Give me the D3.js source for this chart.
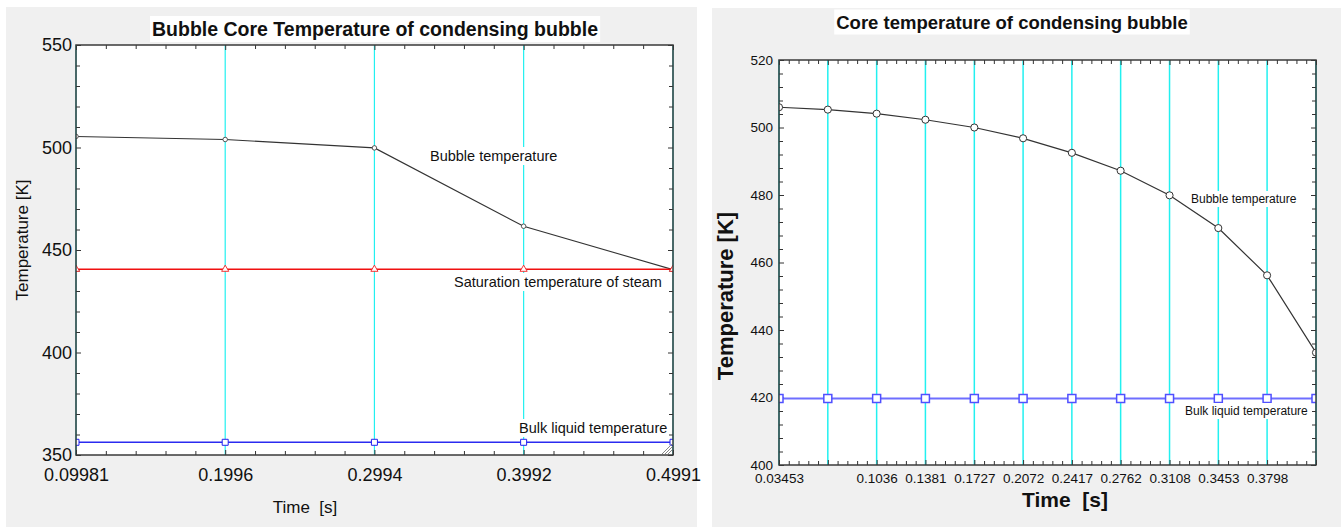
<!DOCTYPE html>
<html>
<head>
<meta charset="utf-8">
<script src="https://cdn.jsdelivr.net/npm/d3@7"></script>
<style>
  html, body { margin: 0; padding: 0; background: #ffffff; }
  svg { display: block; font-family: Arial, "Liberation Sans", sans-serif; }
</style>
</head>
<body>
<svg id="chart" width="1341" height="527"></svg>
<script>
// ---- Left chart: coarse time steps ----
const leftTime = [0.09981, 0.1996, 0.2994, 0.3992, 0.4991];
const leftBubble = [505.4, 503.9, 499.8, 461.6, 440.4];
const leftSaturation = [440.6, 440.6, 440.6, 440.6, 440.6];
const leftBulk = [356.2, 356.2, 356.2, 356.2, 356.2];
const leftTempTicks = [350, 400, 450, 500, 550];
const leftTimeLabels = ["0.09981", "0.1996", "0.2994", "0.3992", "0.4991"];

// ---- Right chart: fine time steps ----
const rightTime = [0.03453, 0.06906, 0.1036, 0.1381, 0.1727, 0.2072,
                   0.2417, 0.2762, 0.3108, 0.3453, 0.3798, 0.4144];
const rightBubble = [506.0, 505.3, 504.1, 502.3, 500.0, 496.8,
                     492.5, 487.2, 479.9, 470.2, 456.2, 433.3];
const rightBulk = [419.7, 419.7, 419.7, 419.7, 419.7, 419.7,
                   419.7, 419.7, 419.7, 419.7, 419.7, 419.7];
const rightTempTicks = [400, 420, 440, 460, 480, 500, 520];
const rightTimeLabels = ["0.03453", "", "0.1036", "0.1381", "0.1727", "0.2072",
                         "0.2417", "0.2762", "0.3108", "0.3453", "0.3798", ""];

const svg = d3.select("#chart");

// Evenly spaced minor positions between consecutive values
function minorBetween(vals, parts) {
  const out = [];
  for (let i = 0; i < vals.length - 1; i++) {
    for (let k = 1; k < parts; k++) out.push(vals[i] + (vals[i + 1] - vals[i]) * k / parts);
  }
  return out;
}

function labelWithBox(g, x, y, text, style) {
  const t = g.append("text")
    .attr("x", x).attr("y", y)
    .attr("dominant-baseline", "central")
    .attr("text-anchor", style.anchor || "start")
    .attr("font-size", style.size)
    .attr("font-weight", style.weight || "normal")
    .attr("fill", "#111")
    .text(text);
  const bb = t.node().getBBox();
  const p = style.pad || 1;
  g.insert("rect", () => t.node())
    .attr("x", bb.x - p).attr("y", bb.y - p + (style.padTop || 0))
    .attr("width", bb.width + 2 * p).attr("height", bb.height + 2 * p - (style.padTop || 0))
    .attr("fill", "#ffffff");
  return t;
}

function drawPanel(cfg) {
  const g = svg.append("g");
  g.append("rect")
    .attr("x", cfg.bg[0]).attr("y", cfg.bg[1])
    .attr("width", cfg.bg[2] - cfg.bg[0]).attr("height", cfg.bg[3] - cfg.bg[1])
    .attr("fill", "#f0f0f0");

  const time = cfg.time;
  const x = d3.scaleLinear().domain([time[0], time[time.length - 1]]).range([cfg.left, cfg.right]);
  const y = d3.scaleLinear().domain(d3.extent(cfg.yTicks)).range([cfg.bottom, cfg.top]);

  g.append("rect")
    .attr("x", cfg.left).attr("y", cfg.top)
    .attr("width", cfg.right - cfg.left).attr("height", cfg.bottom - cfg.top)
    .attr("fill", "#ffffff");

  const clipId = "clip-" + cfg.id;
  g.append("clipPath").attr("id", clipId)
    .append("rect")
    .attr("x", cfg.left).attr("y", cfg.top)
    .attr("width", cfg.right - cfg.left).attr("height", cfg.bottom - cfg.top);

  // Vertical grid at every labelled time
  g.append("g").selectAll("line").data(cfg.gridTimes).join("line")
    .attr("x1", d => x(d)).attr("x2", d => x(d))
    .attr("y1", cfg.top).attr("y2", cfg.bottom)
    .attr("stroke", "#22f0f0").attr("stroke-width", cfg.gridWidth);

  // Ticks (inside the frame) on all four sides
  const minorX = minorBetween(time, 5);
  const minorY = minorBetween(cfg.yTicks, cfg.yMinorParts);
  const axes = [
    [d3.axisBottom(x).tickValues(minorX).tickSize(-cfg.minorLen), `translate(0,${cfg.bottom})`],
    [d3.axisTop(x).tickValues(minorX).tickSize(-cfg.minorLen), `translate(0,${cfg.top})`],
    [d3.axisTop(x).tickValues(time).tickSize(-cfg.majorLen), `translate(0,${cfg.top})`],
    [d3.axisLeft(y).tickValues(minorY).tickSize(-cfg.minorLen), `translate(${cfg.left},0)`],
    [d3.axisRight(y).tickValues(minorY).tickSize(-cfg.minorLen), `translate(${cfg.right},0)`],
    [d3.axisRight(y).tickValues(cfg.yTicks).tickSize(-cfg.majorLen), `translate(${cfg.right},0)`]
  ];
  axes.forEach(([ax, tr]) => {
    const a = g.append("g").attr("transform", tr).call(ax.tickFormat(""));
    a.select(".domain").remove();
    a.selectAll("line").attr("stroke", "#333");
  });

  const xAxis = g.append("g").attr("transform", `translate(0,${cfg.bottom})`)
    .call(d3.axisBottom(x).tickValues(time).tickSize(-cfg.majorLen)
      .tickPadding(cfg.xPad).tickFormat((d, i) => cfg.timeLabels[i]));
  xAxis.select(".domain").remove();
  xAxis.selectAll("line").attr("stroke", "#333");
  xAxis.selectAll("text").attr("font-size", cfg.tickSize).attr("fill", "#111")
    .attr("font-family", "Arial, 'Liberation Sans', sans-serif");

  const yAxis = g.append("g").attr("transform", `translate(${cfg.left},0)`)
    .call(d3.axisLeft(y).tickValues(cfg.yTicks).tickSize(-cfg.majorLen)
      .tickPadding(cfg.yPad).tickFormat(d3.format("d")));
  yAxis.select(".domain").remove();
  yAxis.selectAll("line").attr("stroke", "#333");
  yAxis.selectAll("text").attr("font-size", cfg.tickSize).attr("fill", "#111")
    .attr("font-family", "Arial, 'Liberation Sans', sans-serif");

  // Data series
  const marks = g.append("g").attr("clip-path", `url(#${clipId})`);
  const line = d3.line().x((d, i) => x(time[i])).y(d => y(d));
  cfg.series.forEach(s => {
    marks.append("path").datum(s.values)
      .attr("d", line).attr("fill", "none")
      .attr("stroke", s.color).attr("stroke-width", s.width);
    marks.append("g").selectAll("path").data(s.values).join("path")
      .attr("transform", (d, i) => `translate(${x(time[i])},${y(d)})`)
      .attr("d", d3.symbol().type(s.symbol).size(s.symSize))
      .attr("fill", "#ffffff").attr("stroke", s.markColor).attr("stroke-width", s.markWidth);
  });

  // Inline series names
  cfg.labels.forEach(l => labelWithBox(g, l.x, l.y, l.text, { size: l.size, pad: 1 }));

  // Plot frame
  g.append("rect")
    .attr("x", cfg.left).attr("y", cfg.top)
    .attr("width", cfg.right - cfg.left).attr("height", cfg.bottom - cfg.top)
    .attr("fill", "none").attr("stroke", "#3a3a3a").attr("stroke-width", cfg.frameWidth);

  // Title
  labelWithBox(g, cfg.title.x, cfg.title.y, cfg.title.text,
    { size: cfg.title.size, weight: "bold", anchor: "middle", pad: 2 });

  // Axis titles
  g.append("text")
    .attr("x", cfg.xTitle.x).attr("y", cfg.xTitle.y)
    .attr("text-anchor", "middle").attr("dominant-baseline", "central")
    .attr("font-size", cfg.xTitle.size).attr("font-weight", cfg.xTitle.weight)
    .attr("fill", "#111").attr("xml:space", "preserve")
    .style("white-space", "pre")
    .text(cfg.xTitle.text);
  g.append("text")
    .attr("transform", `translate(${cfg.yTitle.x},${cfg.yTitle.y}) rotate(-90)`)
    .attr("text-anchor", "middle").attr("dominant-baseline", "central")
    .attr("font-size", cfg.yTitle.size).attr("font-weight", cfg.yTitle.weight)
    .attr("fill", "#111")
    .text(cfg.yTitle.text);

  return { g, x, y };
}

// Left panel
const left = drawPanel({
  id: "left",
  bg: [6, 7, 697, 527],
  left: 76, right: 673, top: 45, bottom: 455,
  time: leftTime, timeLabels: leftTimeLabels, gridTimes: leftTime,
  yTicks: leftTempTicks, yMinorParts: 5,
  majorLen: 5, minorLen: 4, gridWidth: 1.2, frameWidth: 1.5,
  tickSize: "18px", xPad: 13, yPad: 4,
  series: [
    { values: leftBubble, color: "#333", width: 1.1, symbol: d3.symbolCircle, symSize: 16, markColor: "#444", markWidth: 0.9 },
    { values: leftSaturation, color: "#f01010", width: 1.3, symbol: d3.symbolTriangle, symSize: 22, markColor: "#f02020", markWidth: 0.9 },
    { values: leftBulk, color: "#2b2bf0", width: 1.6, symbol: d3.symbolSquare, symSize: 36, markColor: "#2222ee", markWidth: 1 }
  ],
  labels: [
    { x: 430, y: 156, text: "Bubble temperature", size: "14.5px" },
    { x: 454, y: 282, text: "Saturation temperature of steam", size: "14.5px" },
    { x: 519, y: 428, text: "Bulk liquid temperature", size: "14.5px" }
  ],
  title: { x: 375, y: 29, text: "Bubble Core Temperature of condensing bubble", size: "19.5px" },
  xTitle: { x: 305, y: 507, text: "Time  [s]", size: "17px", weight: "normal" },
  yTitle: { x: 22, y: 240, text: "Temperature [K]", size: "17px", weight: "normal" }
});

// Resize grip in the plot corner
[4, 7, 10].forEach(k => {
  left.g.append("line")
    .attr("x1", 672 - k).attr("y1", 454).attr("x2", 672).attr("y2", 454 - k)
    .attr("stroke", "#888").attr("stroke-width", 1);
});

// Right panel
drawPanel({
  id: "right",
  bg: [712, 8, 1341, 527],
  left: 779, right: 1316, top: 60, bottom: 465,
  time: rightTime, timeLabels: rightTimeLabels, gridTimes: rightTime,
  yTicks: rightTempTicks, yMinorParts: 5,
  majorLen: 5, minorLen: 4, gridWidth: 1.5, frameWidth: 1.5,
  tickSize: "13.5px", xPad: 8, yPad: 6,
  series: [
    { values: rightBubble, color: "#333", width: 1.2, symbol: d3.symbolCircle, symSize: 40, markColor: "#333", markWidth: 1 },
    { values: rightBulk, color: "#6e6eff", width: 2, symbol: d3.symbolSquare, symSize: 64, markColor: "#5050ff", markWidth: 1.5 }
  ],
  labels: [
    { x: 1191, y: 199, text: "Bubble temperature", size: "12px" },
    { x: 1185, y: 411, text: "Bulk liquid temperature", size: "12px" }
  ],
  title: { x: 1012, y: 22, text: "Core temperature of condensing bubble", size: "18.5px" },
  xTitle: { x: 1065, y: 499, text: "Time  [s]", size: "21px", weight: "bold" },
  yTitle: { x: 725, y: 296, text: "Temperature [K]", size: "22px", weight: "bold" }
});
</script>
</body>
</html>
